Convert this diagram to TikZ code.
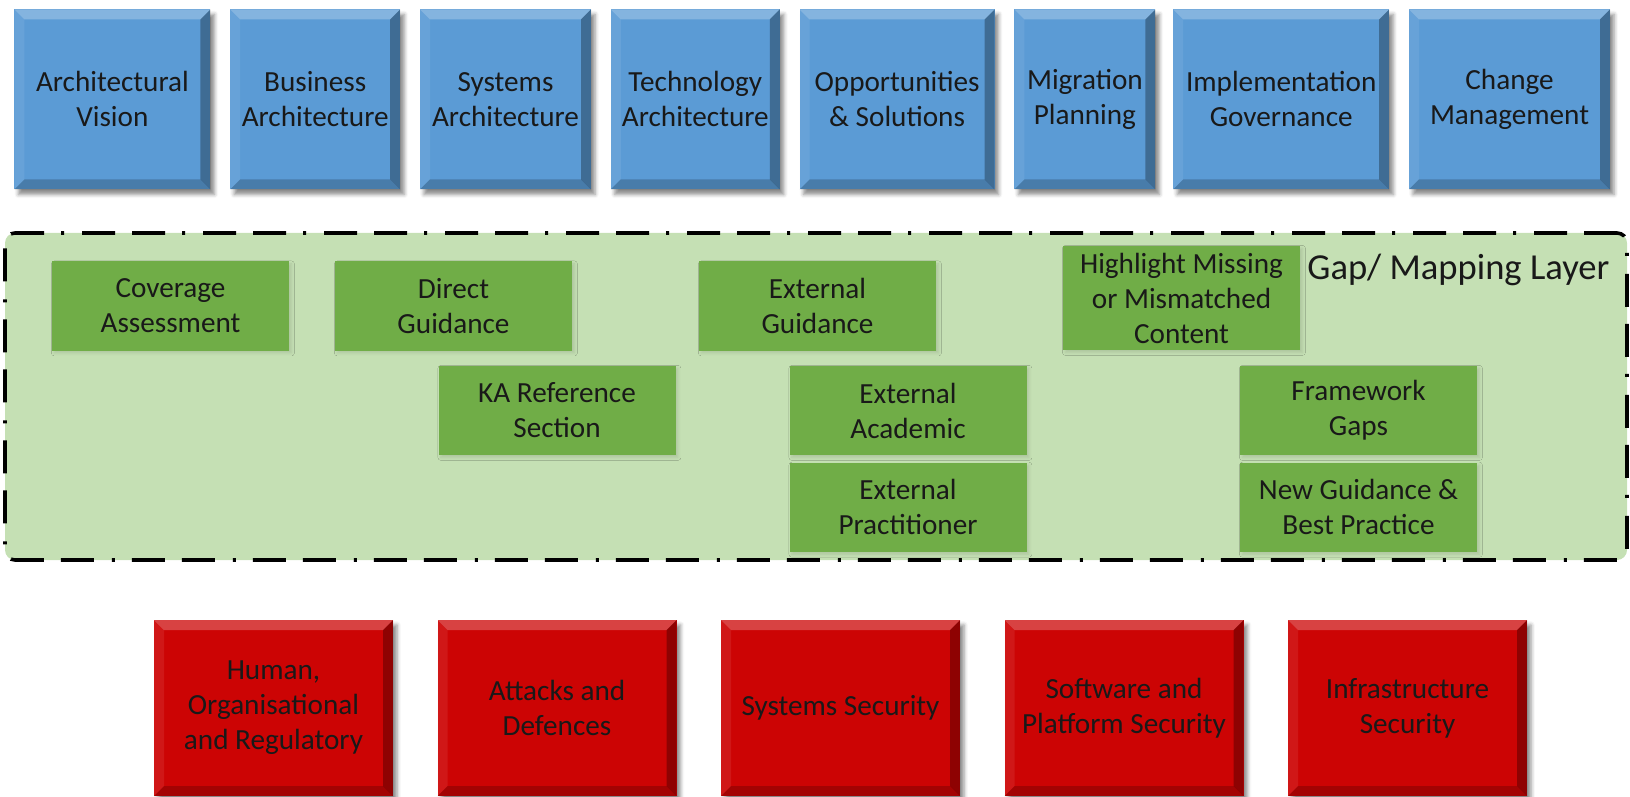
\documentclass[tikz,border=0pt]{standalone}
\usepackage{fontspec}
\setmainfont{Carlito}
\usetikzlibrary{positioning, calc, shadows.blur}

\definecolor{archblue}{RGB}{91,155,213}
\definecolor{kared}{RGB}{204,4,4}
\definecolor{layergreen}{RGB}{197,224,180}
\definecolor{gapgreen}{RGB}{112,173,71}

\begin{document}
\begin{tikzpicture}[x=0.5pt,y=-0.5pt,
 every node/.style={font=\fontsize{14.6pt}{17.5pt}\selectfont, text=black!90, align=center, inner sep=0pt},
 bevel/.style={path picture={
   \coordinate (bnw) at (path picture bounding box.north west);
   \coordinate (bne) at (path picture bounding box.north east);
   \coordinate (bsw) at (path picture bounding box.south west);
   \coordinate (bse) at (path picture bounding box.south east);
   \fill[white,opacity=.25] (bnw) -- (bne) -- ($(bne)+(-10,10)$) -- ($(bnw)+(10,10)$) -- cycle;
   \fill[white,opacity=.08] (bnw) -- ($(bnw)+(10,10)$) -- ($(bsw)+(10,-10)$) -- (bsw) -- cycle;
   \fill[black,opacity=.3] (bne) -- ($(bne)+(-10,10)$) -- ($(bse)+(-10,-10)$) -- (bse) -- cycle;
   \fill[black,opacity=.2] (bsw) -- ($(bsw)+(10,-10)$) -- ($(bse)+(-10,-10)$) -- (bse) -- cycle;}},
 arch node/.style={fill=archblue, bevel, minimum height=90pt,
   blur shadow={shadow xshift=2pt, shadow yshift=-2.5pt, shadow opacity=45}},
 ka node/.style={fill=kared, bevel, minimum width=119.5pt, minimum height=88pt,
   blur shadow={shadow xshift=2pt, shadow yshift=-2.5pt, shadow opacity=45}},
 gap node/.style={fill=gapgreen, minimum width=118.5pt, minimum height=44.5pt,
   blur shadow={shadow xshift=1.2pt, shadow yshift=-1.2pt, shadow opacity=12, shadow blur radius=1.5pt}},
 layer/.style={draw=black, fill=layergreen, line width=1.8pt, rounded corners=5pt,
   dash pattern=on 16.5pt off 8.5pt on 16.5pt off 9pt on 1.5pt off 8.5pt}]

  \useasboundingbox (0,0) rectangle (1630,797);

  % architecture phases
  \node[arch node, anchor=north west, minimum width=98pt] (t1) at (14,9) {Architectural\\Vision};
  \node[arch node, minimum width=85pt, right=9.5pt of t1] (t2) {Business\\Architecture};
  \node[arch node, minimum width=85.5pt, right=9.5pt of t2] (t3) {Systems\\Architecture};
  \node[arch node, minimum width=84.5pt, right=9.5pt of t3] (t4) {Technology\\Architecture};
  \node[arch node, minimum width=97.5pt, right=9.5pt of t4] (t5) {Opportunities\\\& Solutions};
  \node[arch node, minimum width=70.5pt, right=9.5pt of t5] (t6) {Migration\\Planning};
  \node[arch node, minimum width=108pt, right=8.5pt of t6] (t7) {Implementation\\Governance};
  \node[arch node, minimum width=100.5pt, right=9.5pt of t7] (t8) {Change\\Management};

  % gap / mapping layer
  \node[layer, minimum width=811pt, minimum height=163.5pt] (layer) at (816,396.5) {};
  \node[anchor=base west, font=\fontsize{18.3pt}{22pt}\selectfont] (layername) at (1307,279) {Gap/ Mapping Layer};

  \node[gap node] (g1) at (170.5,306) {Coverage\\Assessment};
  \node[gap node] (g2) at (453.5,306) {Direct\\Guidance};
  \node[gap node] (g3) at (817.5,306) {External\\Guidance};
  \node[gap node, minimum height=52pt] (g4) at (1181.5,298) {Highlight Missing\\or Mismatched\\Content};
  \node[gap node] (g5) at (557,410.5) {KA Reference\\Section};
  \node[gap node] (g6) at (908,410.5) {External\\Academic};
  \node[gap node, below=3.5pt of g6] (g7) {External\\Practitioner};
  \node[gap node] (g8) at (1358.5,410.5) {Framework\\Gaps};
  \node[gap node, below=3.5pt of g8] (g9) {New Guidance \&\\Best Practice};

  % knowledge areas
  \foreach \i/\t [evaluate=\i as \kx using 273.5+283.5*(\i-1)] in
    {1/{Human,\\Organisational\\and Regulatory}, 2/{Attacks and\\Defences},
     3/{Systems Security}, 4/{Software and\\Platform Security}, 5/{Infrastructure\\Security}} {
    \node[ka node] (k\i) at (\kx,708) {\t};}
\end{tikzpicture}
\end{document}
